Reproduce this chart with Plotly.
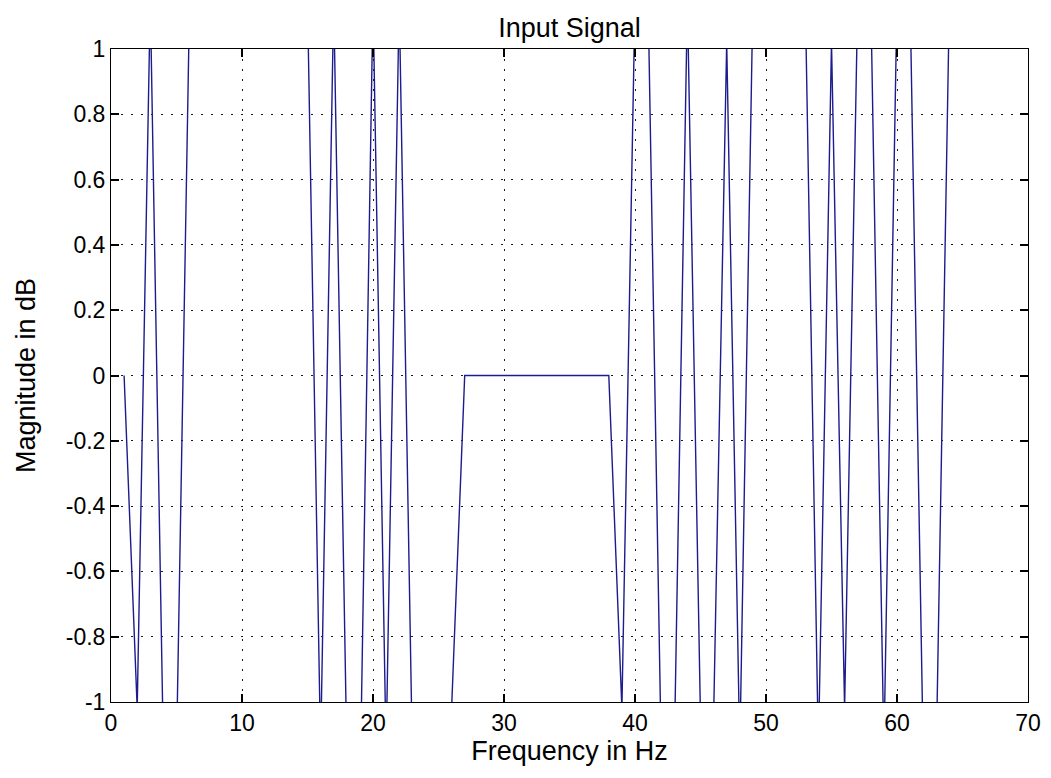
import plotly.graph_objects as go

# Frequency samples (Hz) and magnitude values
freq = [1, 2, 3, 4, 5, 6, 7, 8, 9, 10, 11, 12, 13, 14, 15, 16,
        17, 18, 19, 20, 21, 22, 23, 24, 25, 26, 27, 28, 29, 30, 31, 32,
        33, 34, 35, 36, 37, 38, 39, 40, 41, 42, 43, 44, 45, 46, 47, 48,
        49, 50, 51, 52, 53, 54, 55, 56, 57, 58, 59, 60, 61, 62, 63, 64]

magnitude = [0.0, -1.02, 1.15, -1.15, -1.15, 1.15, 1.3, 1.4, 1.4, 1.4, 1.4, 1.4, 1.4, 1.3, 1.15, -1.15,
             1.15, -1.15, -1.3, 1.15, -1.15, 1.15, -1.15, -1.3, -1.2, -1.02, 0.0, 0.0, 0.0, 0.0, 0.0, 0.0,
             0.0, 0.0, 0.0, 0.0, 0.0, 0.0, -1.02, 1.15, 1.15, -1.15, -1.15, 1.15, -1.05, -1.05, 1.02, -1.15,
             1.15, 1.3, 1.3, 1.3, 1.15, -1.15, 1.02, -1.02, 1.15, 1.15, -1.15, 1.15, 1.15, -1.15, -1.15, 1.15]

x_ticks = [0, 10, 20, 30, 40, 50, 60, 70]
x_labels = ["0", "10", "20", "30", "40", "50", "60", "70"]
y_ticks = [-1, -0.8, -0.6, -0.4, -0.2, 0, 0.2, 0.4, 0.6, 0.8, 1]
y_labels = ["-1", "-0.8", "-0.6", "-0.4", "-0.2", "0", "0.2", "0.4", "0.6", "0.8", "1"]

FONT = "Liberation Sans, Arial, sans-serif"

fig = go.Figure()
fig.add_trace(go.Scatter(
    x=freq, y=magnitude, mode="lines",
    line=dict(color="#1c1c8c", width=1.4),
    showlegend=False, hoverinfo="skip",
))

axis_common = dict(
    showline=True, linecolor="black", linewidth=1, mirror="ticks",
    ticks="inside", ticklen=8, tickcolor="black", tickwidth=1.5,
    showgrid=True, gridcolor="#1a1a1a", gridwidth=1, griddash="1.5px,8.5px",
    zeroline=False,
    tickfont=dict(family=FONT, size=23, color="black"),
)

fig.update_xaxes(
    range=[0, 70], tickvals=x_ticks, ticktext=x_labels,
    title=dict(text="Frequency in Hz", font=dict(family=FONT, size=27, color="black"), standoff=3),
    **axis_common,
)
fig.update_yaxes(
    range=[-1, 1], tickvals=y_ticks, ticktext=y_labels,
    title=dict(text="Magnitude in dB", font=dict(family=FONT, size=27, color="black"), standoff=22),
    **axis_common,
)

fig.update_layout(
    width=1051, height=778,
    margin=dict(l=111, r=23, t=49, b=76, autoexpand=False),
    paper_bgcolor="white", plot_bgcolor="white",
    title=dict(text="Input Signal", x=0.5, xanchor="center", xref="paper",
               y=1 - 28 / 778, yref="container", yanchor="middle",
               font=dict(family=FONT, size=27, color="black")),
)

fig.write_html("out.html")
